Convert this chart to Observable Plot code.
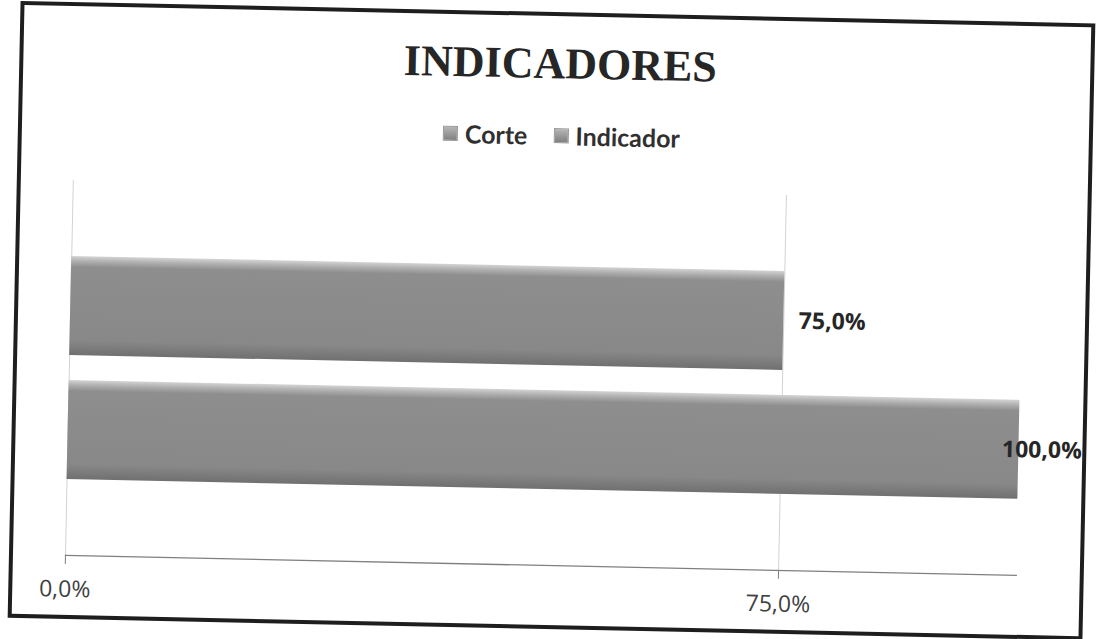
<!DOCTYPE html>
<html>
<head>
<meta charset="utf-8">
<script src="https://cdn.jsdelivr.net/npm/d3@7"></script>
<script src="https://cdn.jsdelivr.net/npm/@observablehq/plot@0.6"></script>
<style>
  html, body { margin: 0; padding: 0; background: #fff; overflow: hidden; }
  #wrap { position: absolute; left: 0; top: 0; width: 1096px; height: 639px;
          transform: rotate(1.2deg); transform-origin: 548px 320px; }
  #frame { position: absolute; left: 14px; top: 12px; width: 1075px; height: 617px;
           box-sizing: border-box; border: 4px solid #1e1e1e; }
  #title { position: absolute; left: 0; top: 42px; width: 1110px; text-align: center;
           font-family: "Liberation Serif", serif; font-weight: bold; font-size: 44px;
           line-height: 44px; color: #262626; }
  #legend { position: absolute; left: 439px; top: 123px; height: 25px; display: flex;
            align-items: center; font-family: Lato, sans-serif; font-weight: bold;
            font-size: 25px; line-height: 25px; color: #303030; }
  .item { display: flex; align-items: center; margin-right: 26px; }
  .sw { width: 15px; height: 15px; margin-right: 7px; box-sizing: border-box;
        background: linear-gradient(#b5b5b5, #808080); border: 1px solid #9a9a9a; }
  #chart { position: absolute; left: 0; top: 180px; }
</style>
</head>
<body>
<div id="wrap">
  <div id="frame"></div>
  <div id="title"></div>
  <div id="legend"></div>
  <div id="chart"></div>
</div>
<script>
const title = "INDICADORES";
const series = ["Corte", "Indicador"];
const values = [0.75, 1.0];
const xTicks = [0, 0.75];

const data = series.map((s, i) => ({series: s, value: values[i]}));
const fmt = d => (d * 100).toFixed(1).replace(".", ",") + "%";

document.getElementById("title").textContent = title;
const legend = document.getElementById("legend");
series.forEach(s => {
  const it = document.createElement("div");
  it.className = "item";
  const sw = document.createElement("span");
  sw.className = "sw";
  const tx = document.createElement("span");
  tx.textContent = s;
  it.appendChild(sw); it.appendChild(tx);
  legend.appendChild(it);
});

const chart = Plot.plot({
  width: 1096,
  height: 446,
  marginTop: 10,
  marginBottom: 61,
  marginLeft: 70,
  marginRight: 75,
  style: {fontFamily: "'Open Sans', sans-serif", fontSize: "23px", background: "transparent", overflow: "visible"},
  x: {domain: [0, 1], axis: null, label: null},
  y: {domain: series, range: [86, 310], paddingInner: 0.2, paddingOuter: 0, axis: null, label: null},
  marks: [
    Plot.ruleX(xTicks, {stroke: "#d2d2d2", strokeWidth: 1}),
    Plot.barX(data, {x: "value", y: "series", fill: "url(#barGrad)"}),
    Plot.frame({anchor: "bottom", stroke: "#808080", strokeWidth: 1.3}),
    Plot.axisX(xTicks, {tickSize: 9, tickPadding: 16, tickFormat: fmt, stroke: "#808080",
                        fill: "#404040", fontSize: 23, label: null}),
    Plot.text(data.filter(d => d.value < 1), {x: "value", y: "series", text: d => fmt(d.value),
      textAnchor: "start", dx: 15, fontWeight: "bold", fontSize: 23, fill: "#262626"}),
    Plot.text(data.filter(d => d.value >= 1), {x: "value", y: "series", text: d => fmt(d.value),
      textAnchor: "start", dx: -17, fontWeight: "bold", fontSize: 23, fill: "#262626"})
  ]
});

const ns = "http://www.w3.org/2000/svg";
const defs = document.createElementNS(ns, "defs");
const lg = document.createElementNS(ns, "linearGradient");
lg.setAttribute("id", "barGrad");
lg.setAttribute("x1", "0"); lg.setAttribute("y1", "0");
lg.setAttribute("x2", "0"); lg.setAttribute("y2", "1");
[["0", "#d4d4d4"], ["0.05", "#b0b0b0"], ["0.11", "#8e8e8e"], ["0.85", "#888888"], ["1", "#707070"]]
  .forEach(([o, c]) => {
    const st = document.createElementNS(ns, "stop");
    st.setAttribute("offset", o); st.setAttribute("stop-color", c);
    lg.appendChild(st);
  });
defs.appendChild(lg);
chart.insertBefore(defs, chart.firstChild);
document.getElementById("chart").appendChild(chart);
</script>
</body>
</html>
